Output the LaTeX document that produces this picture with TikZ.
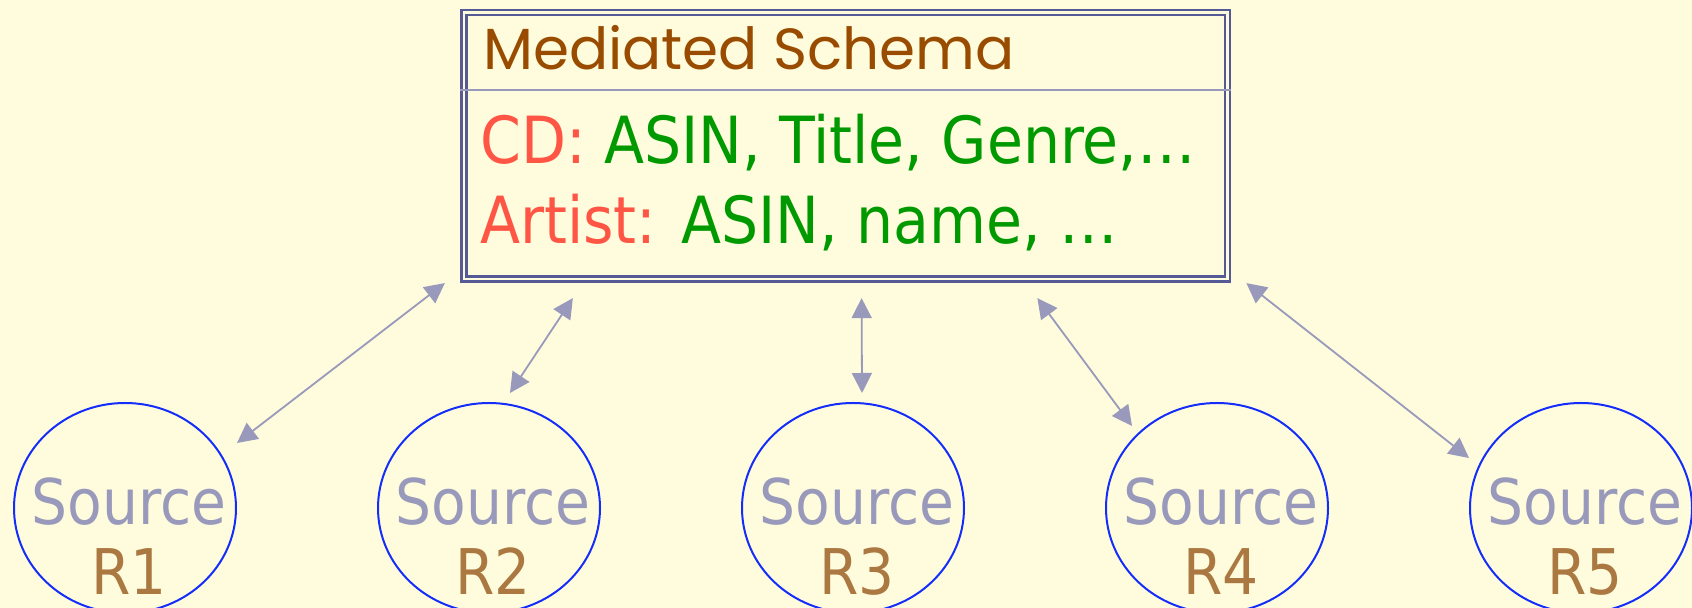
\documentclass[tikz,border=0pt]{standalone}
\usepackage{fontspec}
\usetikzlibrary{positioning, arrows.meta, calc, shapes.geometric}

\newfontfamily\schemafont{DejaVu Sans Condensed}
\newfontfamily\titlefont{Poppins}

\definecolor{slidebg}{RGB}{254,252,221}
\definecolor{boxblue}{RGB}{85,90,150}
\definecolor{linkgray}{RGB}{153,153,187}
\definecolor{srcblue}{RGB}{20,45,250}
\definecolor{relbrown}{RGB}{170,120,64}
\definecolor{titlebrown}{RGB}{153,76,0}
\definecolor{keyred}{RGB}{255,85,68}
\definecolor{attrgreen}{RGB}{0,153,0}

\begin{document}
\begin{tikzpicture}[
    x=0.5pt, y=0.5pt, % one unit is one pixel of the slide
    node distance=71pt, % gap between neighbouring sources
    schemabox/.style={draw=boxblue, double=slidebg, line width=1.25pt, double distance=1.25pt, minimum width=381.75pt, minimum height=133.2pt, inner sep=0pt, outer sep=0pt},
    titlestyle/.style={font=\titlefont\fontsize{29}{35}\selectfont, text=titlebrown, inner sep=0pt},
    schematext/.style={font=\schemafont\fontsize{32.5}{40}\selectfont, inner sep=0pt},
    sepline/.style={draw=linkgray, line width=0.6pt},
    srcbox/.style={draw=srcblue, ellipse, line width=1pt, minimum width=111pt, minimum height=105pt, inner sep=0pt, outer sep=0pt},
    srclabel/.style={font=\schemafont\fontsize{31.5}{35}\selectfont, text=linkgray, inner sep=0pt},
    relname/.style={font=\schemafont\fontsize{31.5}{35}\selectfont, text=relbrown, inner sep=0pt},
    link/.style={draw=linkgray, fill=linkgray, line width=0.9pt, {Triangle[length=10pt, width=10pt]}-{Triangle[length=10pt, width=10pt]}}
]

% Slide background
\fill[slidebg] (0,0) rectangle (1692,608);
\useasboundingbox (0,0) rectangle (1692,608);

% Mediated schema box
\node (schema_box) [schemabox] at (845.6,462.1) {};
\node (schema_title) [titlestyle, anchor=base west] at ($(schema_box.north west)+(19,-56.5)$) {Mediated Schema};
\coordinate (sep_left) at ($(schema_box.north west)+(-3.75,-77.3)$);
\coordinate (sep_right) at ($(schema_box.north east)+(3.75,-77.3)$);
\draw[sepline] (sep_left) -- (sep_right);
\node (cd_line) [schematext, anchor=base west] at ($(schema_box.north west)+(16,-150.5)$) {\color{keyred}CD: \color{attrgreen}ASIN, Title, Genre,…};
\node (artist_line) [schematext, anchor=base west] at ($(cd_line.base west)+(0,-80)$) {\color{keyred}Artist: \color{attrgreen}ASIN, name, …};

% Sources
\node (src_r1) [srcbox] at (125,100) {};
\node (src_r2) [srcbox, right=of src_r1] {};
\node (src_r3) [srcbox, right=of src_r2] {};
\node (src_r4) [srcbox, right=of src_r3] {};
\node (src_r5) [srcbox, right=of src_r4] {};

\node (src_r1_name) [srclabel, anchor=base] at ([xshift=2pt, yshift=-8.5pt]src_r1.center) {Source};
\node (src_r1_rel) [relname, anchor=base] at ([xshift=2pt, yshift=-43.5pt]src_r1.center) {R1};
\node (src_r2_name) [srclabel, anchor=base] at ([xshift=2pt, yshift=-8.5pt]src_r2.center) {Source};
\node (src_r2_rel) [relname, anchor=base] at ([xshift=2pt, yshift=-43.5pt]src_r2.center) {R2};
\node (src_r3_name) [srclabel, anchor=base] at ([xshift=2pt, yshift=-8.5pt]src_r3.center) {Source};
\node (src_r3_rel) [relname, anchor=base] at ([xshift=2pt, yshift=-43.5pt]src_r3.center) {R3};
\node (src_r4_name) [srclabel, anchor=base] at ([xshift=2pt, yshift=-8.5pt]src_r4.center) {Source};
\node (src_r4_rel) [relname, anchor=base] at ([xshift=2pt, yshift=-43.5pt]src_r4.center) {R4};
\node (src_r5_name) [srclabel, anchor=base] at ([xshift=2pt, yshift=-8.5pt]src_r5.center) {Source};
\node (src_r5_rel) [relname, anchor=base] at ([xshift=2pt, yshift=-43.5pt]src_r5.center) {R5};

% Arrow ends next to the box and the sources
\coordinate (r1_top) at ($(schema_box.south west)+(-19,-4)$);
\coordinate (r1_bot) at ($(src_r1.center)+(112,65)$);
\coordinate (r2_top) at ($(schema_box.south west)+(109,-19)$);
\coordinate (r2_bot) at ($(src_r2.center)+(21,115)$);
\coordinate (r3_top) at ($(schema_box.south)+(16,-19)$);
\coordinate (r3_bot) at ($(src_r3.center)+(9,115)$);
\coordinate (r4_top) at ($(schema_box.south east)+(-190,-19)$);
\coordinate (r4_bot) at ($(src_r4.center)+(-85,82)$);
\coordinate (r5_top) at ($(schema_box.south east)+(19,-4)$);
\coordinate (r5_bot) at ($(src_r5.center)+(-112,50)$);

\draw[link] (r1_top) -- (r1_bot);
\draw[link] (r2_top) -- (r2_bot);
\draw[link] (r3_top) -- (r3_bot);
\draw[link] (r4_top) -- (r4_bot);
\draw[link] (r5_top) -- (r5_bot);

\end{tikzpicture}
\end{document}
